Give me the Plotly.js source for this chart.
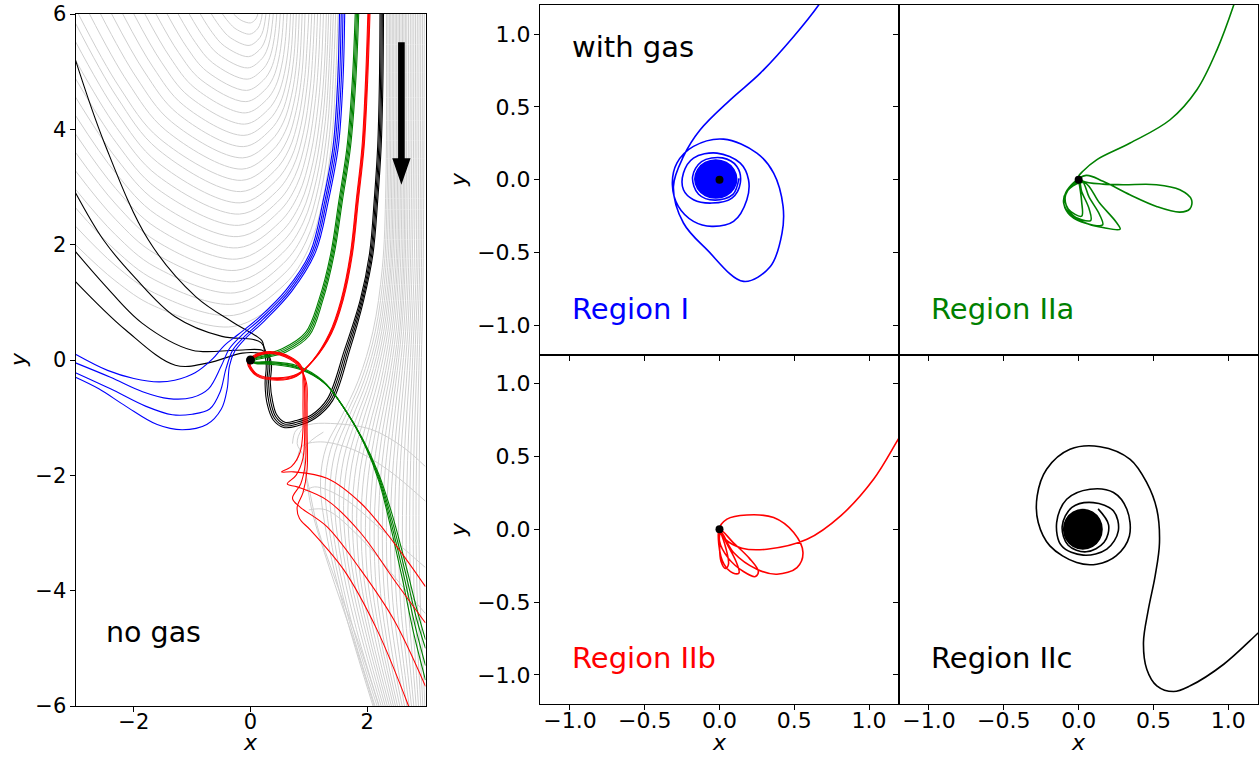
<!DOCTYPE html>
<html>
<head>
<meta charset="utf-8">
<script src="https://cdn.plot.ly/plotly-3.0.1.min.js"></script>
<style>
  html, body { margin: 0; padding: 0; background: #ffffff; }
  #chart { width: 1260px; height: 757px; }
</style>
</head>
<body>
<div id="chart"></div>
<script>
// ---------- tick values and labels ----------
const leftXTicks = [-2, 0, 2];
const leftXTickText = ['\u22122', '0', '2'];
const leftYTicks = [-6, -4, -2, 0, 2, 4, 6];
const leftYTickText = ['\u22126', '\u22124', '\u22122', '0', '2', '4', '6'];
const panelTicks = [-1, -0.5, 0, 0.5, 1];
const panelTickText = ['\u22121.0', '\u22120.5', '0.0', '0.5', '1.0'];

// ---------- left panel: trajectories without gas ----------
// horseshoe orbits (gray), outermost first
const horseshoeOrbits = [
  [[-3,2.0],[-2.325,1.379],[-1.65,0.935],[-0.3,0.58],[0.597,1.13],[1.0,1.73],[1.256,2.58],[1.42,3.68],[1.49,4.8],[1.53,6]],
  [[-3,2.32],[-2.322,1.644],[-1.645,1.161],[-0.289,0.775],[0.588,1.313],[0.981,1.90],[1.232,2.731],[1.393,3.807],[1.46,4.9],[1.50,6]],
  [[-3,2.64],[-2.32,1.909],[-1.639,1.388],[-0.278,0.97],[0.574,1.493],[0.956,2.063],[1.199,2.87],[1.356,3.915],[1.42,4.95],[1.46,6]],
  [[-3,2.96],[-2.317,2.175],[-1.634,1.614],[-0.267,1.165],[0.56,1.672],[0.931,2.225],[1.167,3.009],[1.319,4.023],[1.38,5.0],[1.42,6]],
  [[-3,3.28],[-2.314,2.44],[-1.628,1.84],[-0.256,1.36],[0.546,1.852],[0.906,2.388],[1.135,3.148],[1.282,4.131],[1.345,5.05],[1.38,6]],
  [[-3,3.6],[-2.311,2.705],[-1.623,2.066],[-0.245,1.555],[0.532,2.031],[0.88,2.551],[1.102,3.287],[1.245,4.24],[1.305,5.1],[1.34,6]],
  [[-3,3.92],[-2.309,2.971],[-1.617,2.293],[-0.234,1.75],[0.518,2.211],[0.855,2.714],[1.07,3.426],[1.208,4.348],[1.27,5.15],[1.30,6]],
  [[-3,4.24],[-2.306,3.236],[-1.612,2.519],[-0.223,1.945],[0.499,2.388],[0.823,2.871],[1.029,3.555],[1.162,4.441],[1.22,5.2],[1.25,6]],
  [[-3,4.56],[-2.303,3.501],[-1.606,2.745],[-0.212,2.14],[0.48,2.565],[0.791,3.028],[0.988,3.684],[1.115,4.533],[1.17,5.25],[1.20,6]],
  [[-3,4.88],[-2.3,3.767],[-1.601,2.971],[-0.201,2.335],[0.461,2.741],[0.758,3.184],[0.947,3.811],[1.069,4.623],[1.12,5.3],[1.15,6]],
  [[-3,5.2],[-2.298,4.032],[-1.595,3.198],[-0.19,2.53],[0.442,2.918],[0.726,3.341],[0.907,3.94],[1.023,4.716],[1.07,5.35],[1.10,6]],
  [[-3,5.52],[-2.295,4.297],[-1.59,3.424],[-0.179,2.725],[0.423,3.095],[0.694,3.498],[0.866,4.069],[0.976,4.808],[1.02,5.4],[1.05,6]],
  [[-3,5.84],[-2.292,4.563],[-1.584,3.65],[-0.168,2.92],[0.404,3.271],[0.661,3.654],[0.825,4.196],[0.93,4.898],[0.97,5.45],[1.00,6]],
  [[-2.95,6],[-2.252,4.738],[-1.554,3.836],[-0.157,3.115],[0.385,3.448],[0.629,3.811],[0.784,4.325],[0.884,4.991],[0.935,6]],
  [[-2.76,6],[-2.107,4.823],[-1.453,3.983],[-0.146,3.31],[0.367,3.625],[0.597,3.968],[0.743,4.454],[0.837,5.083],[0.885,6]],
  [[-2.57,6],[-1.961,4.908],[-1.353,4.129],[-0.135,3.505],[0.348,3.801],[0.564,4.124],[0.702,4.581],[0.791,5.173],[0.835,6]],
  [[-2.38,6],[-1.816,4.994],[-1.252,4.275],[-0.124,3.7],[0.329,3.978],[0.532,4.281],[0.661,4.71],[0.745,5.266],[0.785,6]],
  [[-2.19,6],[-1.671,5.079],[-1.152,4.421],[-0.113,3.895],[0.31,4.155],[0.5,4.438],[0.621,4.839],[0.698,5.358],[0.735,6]],
  [[-2.0,6],[-1.526,5.164],[-1.051,4.568],[-0.102,4.09],[0.291,4.331],[0.467,4.594],[0.58,4.966],[0.652,5.448],[0.686,6]],
  [[-1.81,6],[-1.38,5.25],[-0.951,4.714],[-0.091,4.285],[0.267,4.504],[0.428,4.744],[0.53,5.083],[0.596,5.522],[0.628,6]],
  [[-1.62,6],[-1.235,5.335],[-0.85,4.86],[-0.08,4.48],[0.243,4.679],[0.389,4.895],[0.481,5.202],[0.54,5.599],[0.568,6]],
  [[-1.43,6],[-1.09,5.42],[-0.75,5.006],[-0.069,4.675],[0.22,4.852],[0.349,5.045],[0.432,5.319],[0.485,5.673],[0.51,6]],
  [[-1.24,6],[-0.945,5.506],[-0.649,5.153],[-0.058,4.87],[0.196,5.026],[0.31,5.195],[0.382,5.436],[0.429,5.747],[0.45,6]],
  [[-1.05,6],[-0.799,5.591],[-0.549,5.299],[-0.047,5.065],[0.172,5.199],[0.27,5.346],[0.333,5.553],[0.373,5.821],[0.39,6]],
  [[-0.86,6],[-0.654,5.676],[-0.448,5.445],[-0.036,5.26],[0.148,5.373],[0.231,5.496],[0.284,5.67],[0.317,5.896],[0.33,6]],
  [[-0.67,6],[-0.509,5.762],[-0.348,5.591],[-0.025,5.455],[0.124,5.547],[0.192,5.647],[0.234,5.789],[0.265,6]],
  [[-0.48,6],[-0.364,5.847],[-0.247,5.738],[-0.014,5.65],[0.101,5.72],[0.152,5.797],[0.185,5.906],[0.2,6]],
  [[-0.29,6],[-0.218,5.932],[-0.147,5.884],[-0.003,5.845],[0.072,5.891],[0.106,5.942],[0.125,6]]
];

// passing orbits (gray), coming down on the right
const passingOrbits = [
  [[2.33,6],[2.32,3],[2.26,1.6],[2.1,0.5],[1.85,-0.35],[1.55,-1.0],[1.3,-1.5],[1.2,-2.1],[1.3,-3.0],[1.6,-4.3],[2.1,-6]],
  [[2.355,6],[2.345,3],[2.29,1.6],[2.14,0.5],[1.9,-0.35],[1.615,-1.0],[1.375,-1.55],[1.28,-2.2],[1.375,-3.1],[1.66,-4.4],[2.135,-6]],
  [[2.38,6],[2.37,3],[2.32,1.6],[2.18,0.5],[1.95,-0.35],[1.68,-1.0],[1.45,-1.6],[1.36,-2.3],[1.45,-3.2],[1.72,-4.5],[2.17,-6]],
  [[2.405,6],[2.395,3],[2.35,1.6],[2.215,0.5],[2.0,-0.35],[1.74,-1.02],[1.525,-1.65],[1.44,-2.375],[1.525,-3.3],[1.785,-4.55],[2.205,-6]],
  [[2.43,6],[2.42,3],[2.38,1.6],[2.25,0.5],[2.05,-0.35],[1.8,-1.05],[1.6,-1.7],[1.52,-2.45],[1.6,-3.4],[1.85,-4.6],[2.24,-6]],
  [[2.455,6],[2.445,3],[2.405,1.6],[2.285,0.5],[2.095,-0.35],[1.86,-1.07],[1.67,-1.75],[1.595,-2.525],[1.67,-3.5],[1.91,-4.65],[2.275,-6]],
  [[2.48,6],[2.47,3],[2.43,1.6],[2.32,0.5],[2.14,-0.35],[1.92,-1.1],[1.74,-1.8],[1.67,-2.6],[1.74,-3.6],[1.97,-4.7],[2.31,-6]],
  [[2.505,6],[2.495,3],[2.46,1.6],[2.355,0.5],[2.185,-0.37],[1.98,-1.12],[1.81,-1.85],[1.745,-2.675],[1.81,-3.675],[2.025,-4.75],[2.345,-6]],
  [[2.53,6],[2.52,3],[2.49,1.6],[2.39,0.5],[2.23,-0.4],[2.04,-1.15],[1.88,-1.9],[1.82,-2.75],[1.88,-3.75],[2.08,-4.8],[2.38,-6]],
  [[2.555,6],[2.545,3],[2.515,1.6],[2.425,0.5],[2.275,-0.4],[2.095,-1.17],[1.95,-1.95],[1.895,-2.825],[1.95,-3.825],[2.14,-4.85],[2.415,-6]],
  [[2.58,6],[2.57,3],[2.54,1.6],[2.46,0.5],[2.32,-0.4],[2.15,-1.2],[2.02,-2.0],[1.97,-2.9],[2.02,-3.9],[2.2,-4.9],[2.45,-6]],
  [[2.605,6],[2.595,3],[2.57,1.6],[2.495,0.5],[2.365,-0.4],[2.21,-1.2],[2.09,-2.05],[2.045,-2.95],[2.09,-3.95],[2.255,-4.95],[2.485,-6]],
  [[2.63,6],[2.62,3],[2.6,1.6],[2.53,0.5],[2.41,-0.4],[2.27,-1.2],[2.16,-2.1],[2.12,-3.0],[2.16,-4.0],[2.31,-5.0],[2.52,-6]],
  [[2.655,6],[2.645,3],[2.625,1.6],[2.56,0.5],[2.45,-0.4],[2.325,-1.22],[2.225,-2.12],[2.19,-3.05],[2.23,-4.05],[2.37,-5.05],[2.56,-6]],
  [[2.68,6],[2.67,3],[2.65,1.6],[2.59,0.5],[2.49,-0.4],[2.38,-1.25],[2.29,-2.15],[2.26,-3.1],[2.3,-4.1],[2.43,-5.1],[2.6,-6]],
  [[2.71,6],[2.7,3],[2.68,1.6],[2.625,0.5],[2.535,-0.4],[2.435,-1.27],[2.355,-2.17],[2.33,-3.15],[2.37,-4.15],[2.49,-5.1],[2.64,-6]],
  [[2.74,6],[2.73,3],[2.71,1.6],[2.66,0.5],[2.58,-0.4],[2.49,-1.3],[2.42,-2.2],[2.4,-3.2],[2.44,-4.2],[2.55,-5.1],[2.68,-6]],
  [[2.77,6],[2.76,3],[2.74,1.6],[2.695,0.5],[2.625,-0.4],[2.545,-1.3],[2.485,-2.2],[2.47,-3.2],[2.505,-4.2],[2.605,-5.1],[2.72,-6]],
  [[2.8,6],[2.79,3],[2.77,1.6],[2.73,0.5],[2.67,-0.4],[2.6,-1.3],[2.55,-2.2],[2.54,-3.2],[2.57,-4.2],[2.66,-5.1],[2.76,-6]],
  [[2.83,6],[2.82,3],[2.805,1.6],[2.765,0.5],[2.715,-0.4],[2.655,-1.3],[2.615,-2.2],[2.605,-3.2],[2.635,-4.2],[2.715,-5.1],[2.8,-6]],
  [[2.86,6],[2.85,3],[2.84,1.6],[2.8,0.5],[2.76,-0.4],[2.71,-1.3],[2.68,-2.2],[2.67,-3.2],[2.7,-4.2],[2.77,-5.1],[2.84,-6]],
  [[2.89,6],[2.88,3],[2.87,1.6],[2.835,0.5],[2.8,-0.4],[2.76,-1.3],[2.735,-2.2],[2.73,-3.2],[2.755,-4.2],[2.82,-5.1],[2.88,-6]],
  [[2.92,6],[2.91,3],[2.9,1.6],[2.87,0.5],[2.84,-0.4],[2.81,-1.3],[2.79,-2.2],[2.79,-3.2],[2.81,-4.2],[2.87,-5.1],[2.92,-6]],
  [[2.95,6],[2.94,3],[2.93,1.6],[2.905,0.5],[2.88,-0.4],[2.855,-1.3],[2.84,-2.2],[2.84,-3.2],[2.86,-4.2],[2.91,-5.1],[2.955,-6]],
  [[2.98,6],[2.97,3],[2.96,1.6],[2.94,0.5],[2.92,-0.4],[2.9,-1.3],[2.89,-2.2],[2.89,-3.2],[2.91,-4.2],[2.95,-5.1],[2.99,-6]]
];

// scattered orbits (gray) leaving towards the lower right
const scatteredOrbits = [
  [[1.1,-1.0],[0.88,-1.2],[0.8,-1.45],[0.9,-1.65],[0.95,-2.0],[1.05,-2.6],[1.35,-3.6],[1.75,-4.8],[2.12,-6]],
  [[1.25,-1.25],[0.95,-1.5],[0.92,-1.8],[1.0,-2.2],[1.15,-2.9],[1.45,-3.8],[1.85,-4.9],[2.2,-6]],
  [[0.72,-1.45],[0.78,-1.22],[1.0,-1.12],[1.37,-1.1],[2.06,-1.2],[2.6,-1.5],[3.0,-1.85]],
  [[0.8,-1.75],[0.88,-1.5],[1.2,-1.42],[1.75,-1.55],[2.35,-1.9],[3.0,-2.45]],
  [[0.9,-2.3],[1.1,-2.2],[1.6,-2.4],[2.2,-2.9],[3.0,-3.6]],
  [[1.0,-2.6],[1.3,-2.6],[1.9,-3.1],[2.5,-3.8],[3.0,-4.4]]
];

// Region I orbits (blue)
const regionIOrbits = [
  [[1.525,6],[1.495,4.84],[1.415,3.7],[1.245,2.76],[1.025,1.87],[0.615,1.22],[0.15,0.74],[-0.2,0.45],[-0.45,0.25],[-0.65,0.02],[-0.95,-0.22],[-1.3,-0.35],[-1.57,-0.38],[-2.0,-0.32],[-2.45,-0.18],[-3,0.1]],
  [[1.555,6],[1.525,4.84],[1.445,3.7],[1.275,2.76],[1.055,1.87],[0.645,1.21],[0.18,0.72],[-0.16,0.42],[-0.36,0.2],[-0.5,-0.1],[-0.72,-0.5],[-1.0,-0.65],[-1.4,-0.67],[-1.85,-0.55],[-2.4,-0.3],[-3,-0.05]],
  [[1.585,6],[1.555,4.84],[1.475,3.7],[1.305,2.76],[1.085,1.87],[0.675,1.2],[0.21,0.7],[-0.12,0.39],[-0.3,0.18],[-0.42,-0.15],[-0.52,-0.55],[-0.7,-0.85],[-1.0,-0.94],[-1.34,-0.95],[-1.8,-0.8],[-2.4,-0.5],[-3,-0.22]],
  [[1.615,6],[1.585,4.84],[1.505,3.7],[1.335,2.76],[1.115,1.87],[0.705,1.19],[0.24,0.68],[-0.09,0.37],[-0.27,0.15],[-0.36,-0.1],[-0.4,-0.5],[-0.5,-0.85],[-0.75,-1.12],[-1.17,-1.21],[-1.6,-1.12],[-2.14,-0.8],[-2.6,-0.5],[-3,-0.3]]
];

// Region IIa orbits (green)
const regionIIaOrbits = [
  [[1.795,6],[1.745,4.84],[1.655,3.7],[1.515,2.76],[1.375,1.84],[1.175,1.05],[0.945,0.48],[0.55,0.2],[0.22,0.09],[0.07,0.05],[0.0,0.01],[0.05,-0.03],[0.34,-0.03],[0.8,-0.1],[1.24,-0.36],[1.58,-0.8],[1.92,-1.36],[2.2,-1.98],[2.42,-2.65],[2.66,-3.55],[2.86,-4.35],[3.0,-4.85]],
  [[1.815,6],[1.765,4.84],[1.675,3.7],[1.535,2.76],[1.395,1.84],[1.195,1.04],[0.965,0.46],[0.57,0.18],[0.23,0.07],[0.07,0.035],[0.01,0.0],[0.06,-0.04],[0.34,-0.045],[0.8,-0.12],[1.25,-0.38],[1.6,-0.83],[1.93,-1.4],[2.2,-2.02],[2.41,-2.72],[2.64,-3.62],[2.85,-4.5],[3.0,-5.0]],
  [[1.835,6],[1.785,4.84],[1.695,3.7],[1.555,2.76],[1.415,1.84],[1.215,1.03],[0.985,0.44],[0.59,0.16],[0.24,0.055],[0.08,0.02],[0.02,-0.01],[0.07,-0.05],[0.35,-0.06],[0.82,-0.14],[1.27,-0.4],[1.62,-0.86],[1.95,-1.44],[2.2,-2.06],[2.4,-2.78],[2.62,-3.7],[2.82,-4.6],[3.0,-5.3]],
  [[1.855,6],[1.805,4.84],[1.715,3.7],[1.575,2.76],[1.435,1.84],[1.235,1.02],[1.005,0.42],[0.61,0.14],[0.25,0.04],[0.09,0.005],[0.03,-0.02],[0.08,-0.06],[0.36,-0.075],[0.84,-0.16],[1.29,-0.42],[1.64,-0.89],[1.96,-1.48],[2.2,-2.1],[2.39,-2.84],[2.6,-3.78],[2.8,-4.75],[3.0,-5.55]]
];

// Region IIb orbits (red)
const regionIIbOrbits = [
  [[2.012,6],[1.972,4.84],[1.912,3.7],[1.812,2.76],[1.712,1.84],[1.552,1.04],[1.352,0.46],[1.062,-0.015],[0.79,-0.28],[0.46,-0.35],[0.11,-0.28],[-0.05,-0.05],[0.05,0.075],[0.34,0.145],[0.7,0.045],[0.88,-0.12],[0.9,-0.4],[0.9,-0.8],[0.9,-1.2],[0.85,-1.6],[0.7,-1.85],[0.53,-1.94],[0.74,-1.94],[1.31,-2.05],[1.89,-2.48],[2.46,-3.17],[3.0,-3.93]],
  [[2.024,6],[1.984,4.84],[1.924,3.7],[1.824,2.76],[1.724,1.84],[1.564,1.04],[1.364,0.46],[1.074,-0.005],[0.797,-0.267],[0.46,-0.337],[0.11,-0.267],[-0.037,-0.05],[0.056,0.065],[0.34,0.135],[0.692,0.035],[0.866,-0.12],[0.92,-0.4],[0.93,-0.8],[0.93,-1.2],[0.9,-1.7],[0.78,-2.0],[0.63,-2.15],[0.8,-2.2],[1.31,-2.43],[1.89,-3.0],[2.46,-3.81],[3.0,-4.56]],
  [[2.036,6],[1.996,4.84],[1.936,3.7],[1.836,2.76],[1.736,1.84],[1.576,1.04],[1.376,0.46],[1.086,0.005],[0.803,-0.253],[0.46,-0.323],[0.11,-0.253],[-0.023,-0.05],[0.064,0.055],[0.34,0.125],[0.684,0.025],[0.852,-0.12],[0.94,-0.4],[0.95,-0.8],[0.95,-1.2],[0.94,-1.8],[0.86,-2.15],[0.72,-2.4],[0.85,-2.55],[1.31,-2.89],[1.89,-3.64],[2.46,-4.51],[3.0,-5.66]],
  [[2.048,6],[2.008,4.84],[1.948,3.7],[1.848,2.76],[1.748,1.84],[1.588,1.04],[1.388,0.46],[1.098,0.015],[0.81,-0.24],[0.46,-0.31],[0.11,-0.24],[-0.01,-0.05],[0.07,0.045],[0.34,0.115],[0.676,0.015],[0.838,-0.12],[0.96,-0.4],[0.97,-0.8],[0.97,-1.2],[0.97,-1.9],[0.9,-2.3],[0.8,-2.55],[0.84,-2.75],[1.03,-2.95],[1.6,-3.64],[2.17,-4.68],[2.71,-6]]
];

// Region IIc orbits (black)
const regionIIcOrbits = [
  [[2.28,6],[2.27,4.84],[2.24,3.7],[2.18,2.76],[2.10,1.84],[1.94,1.04],[1.70,0.17],[1.41,-0.7],[1.11,-1.01],[0.81,-1.14],[0.57,-1.17],[0.39,-1.04],[0.29,-0.78],[0.25,-0.42],[0.27,-0.1],[0.24,0.15],[0.2,0.33],[0.09,0.42],[-0.31,0.66],[-0.94,1.1],[-1.75,2.08],[-2.5,3.75],[-3,5.2]],
  [[2.26,6],[2.25,4.84],[2.22,3.7],[2.16,2.76],[2.08,1.84],[1.92,1.04],[1.67,0.17],[1.38,-0.69],[1.09,-0.99],[0.8,-1.11],[0.57,-1.14],[0.41,-1.01],[0.32,-0.76],[0.28,-0.41],[0.3,-0.1],[0.27,0.12],[0.18,0.3],[0.03,0.36],[-0.49,0.41],[-1.29,0.75],[-2.0,1.45],[-2.52,2.08],[-3,2.9]],
  [[2.24,6],[2.23,4.84],[2.2,3.7],[2.14,2.76],[2.06,1.84],[1.9,1.04],[1.64,0.17],[1.35,-0.68],[1.07,-0.97],[0.79,-1.08],[0.58,-1.11],[0.43,-0.98],[0.35,-0.74],[0.31,-0.4],[0.33,-0.1],[0.3,0.08],[0.2,0.17],[-0.26,0.17],[-1.0,0.17],[-1.86,0.64],[-2.5,1.3],[-3,1.88]],
  [[2.22,6],[2.21,4.84],[2.18,3.7],[2.12,2.76],[2.04,1.84],[1.88,1.04],[1.61,0.17],[1.32,-0.67],[1.05,-0.95],[0.78,-1.05],[0.59,-1.08],[0.45,-0.95],[0.38,-0.72],[0.34,-0.39],[0.36,-0.1],[0.32,0.06],[0.2,0.11],[-0.14,0.12],[-0.72,-0.05],[-1.29,-0.09],[-2.14,0.52],[-3,1.36]]
];

// ---------- right panels: single orbits with gas ----------
const gasOrbitI = [[0.70,1.26],[0.663,1.2],[0.496,0.984],[0.273,0.732],[0.072,0.549],[-0.129,0.343],[-0.241,0.16],[-0.308,-0.046],[-0.241,-0.297],[-0.084,-0.48],[0.161,-0.698],[0.34,-0.595],[0.418,-0.366],[0.425,-0.183],[0.362,0.046],[0.25,0.183],[0.027,0.279],[-0.174,0.229],[-0.285,0.114],[-0.315,-0.034],[-0.275,-0.183],[-0.174,-0.286],[-0.051,-0.32],[0.094,-0.286],[0.183,-0.137],[0.194,0.0],[0.139,0.114],[-0.017,0.183],[-0.174,0.149],[-0.241,0.046],[-0.241,-0.069],[-0.174,-0.137],[-0.051,-0.16],[0.083,-0.126],[0.139,-0.023],[0.116,0.091],[0.02,0.15],[-0.12,0.125],[-0.18,0.02],[-0.14,-0.1],[-0.03,-0.14],[0.09,-0.1],[0.13,0.01]];
const gasCoreI = [[0.115,0.005],[0.096,0.07],[0.045,0.118],[-0.025,0.135],[-0.095,0.118],[-0.146,0.07],[-0.165,0.005],[-0.146,-0.06],[-0.095,-0.108],[-0.025,-0.125],[0.045,-0.108],[0.096,-0.06],[0.115,0.005]];

const gasOrbitIIa = [[1.06,1.28],[1.036,1.2],[0.924,0.892],[0.79,0.618],[0.611,0.412],[0.344,0.252],[0.12,0.137],[0.03,0.06],[0.0,0.02],
  [0.03,-0.01],[0.163,-0.03],[0.297,-0.034],[0.52,-0.034],[0.676,-0.069],[0.754,-0.137],[0.743,-0.2],[0.676,-0.222],[0.52,-0.183],[0.342,-0.103],[0.163,-0.011],[0.05,0.03],
  [-0.04,-0.03],[-0.09,-0.12],[-0.06,-0.22],[0.03,-0.29],[0.17,-0.33],[0.277,-0.339],[0.25,-0.29],[0.14,-0.16],[0.04,-0.02],
  [-0.06,-0.06],[-0.1,-0.14],[-0.07,-0.23],[0.02,-0.29],[0.16,-0.31],[0.14,-0.24],[0.07,-0.12],[0.02,-0.01],
  [-0.08,-0.08],[-0.1,-0.16],[-0.05,-0.24],[0.08,-0.28],[0.07,-0.2],[0.02,-0.08],[0,0],
  [-0.09,-0.1],[-0.07,-0.2],[0.02,-0.25],[0.02,-0.15],[0.0,0.0]];

const gasOrbitIIb = [[1.28,0.75],[1.206,0.636],[1.03,0.343],[0.81,0.092],[0.585,-0.069],[0.317,-0.137],[0.15,-0.13],[0.04,-0.07],[0.0,0.0],
  [0.05,0.069],[0.183,0.098],[0.362,0.08],[0.496,-0.023],[0.558,-0.16],[0.518,-0.263],[0.384,-0.309],[0.25,-0.275],[0.094,-0.16],[0.01,-0.02],
  [0.0,-0.08],[0.06,-0.2],[0.16,-0.29],[0.24,-0.325],[0.26,-0.29],[0.2,-0.2],[0.09,-0.09],[0.0,0.0],
  [-0.005,-0.1],[0.03,-0.24],[0.09,-0.3],[0.13,-0.3],[0.11,-0.22],[0.05,-0.1],[0.0,0.0],
  [0.0,-0.1],[0.01,-0.22],[0.04,-0.27],[0.06,-0.24],[0.04,-0.12],[0.0,0.0]];

const gasOrbitIIc = [[1.3,-0.62],[1.203,-0.709],[0.969,-0.927],[0.745,-1.075],[0.634,-1.114],[0.522,-1.075],[0.455,-0.961],[0.433,-0.778],[0.466,-0.549],[0.511,-0.32],[0.54,-0.092],[0.522,0.137],[0.455,0.32],[0.344,0.48],[0.143,0.567],[-0.058,0.549],[-0.214,0.412],[-0.277,0.229],[-0.27,0.046],[-0.192,-0.114],[-0.013,-0.229],[0.121,-0.24],[0.25,-0.183],[0.339,-0.046],[0.322,0.137],[0.233,0.252],[0.076,0.275],[-0.08,0.206],[-0.147,0.046],[-0.114,-0.114],[0.031,-0.178],[0.188,-0.137],[0.265,-0.011],[0.233,0.126],[0.098,0.183],[-0.045,0.15],[-0.11,0.02],[-0.07,-0.11],[0.05,-0.155],[0.17,-0.09],[0.2,0.03],[0.13,0.14]];
const gasCoreIIc = [[0.156,0],[0.139,0.068],[0.092,0.117],[0.028,0.135],[-0.036,0.117],[-0.083,0.068],[-0.1,0],[-0.083,-0.068],[-0.036,-0.117],[0.028,-0.135],[0.092,-0.117],[0.139,-0.068],[0.156,0]];

// planet position
const planet = [0, 0];

// direction of the incoming flow (left panel)
const flowArrow = { x: 2.587, yTail: 5.51, yHeadBase: 3.5, yTip: 3.04 };

// ---------- colours ----------
const GRAY = '#cfcfcf';
const BLUE = '#0000ff';
const GREEN = '#008000';
const RED = '#ff0000';
const BLACK = '#000000';

const FONT = 'DejaVu Sans';

function orbitTrace(pts, xa, ya, color, width, extra) {
  return Object.assign({
    type: 'scatter', mode: 'lines',
    x: pts.map(p => p[0]), y: pts.map(p => p[1]),
    xaxis: xa, yaxis: ya,
    line: { color: color, width: width, shape: 'spline', smoothing: 1 },
    hoverinfo: 'skip', showlegend: false
  }, extra || {});
}

function planetTrace(xa, ya, size) {
  return {
    type: 'scatter', mode: 'markers', x: [planet[0]], y: [planet[1]],
    xaxis: xa, yaxis: ya, marker: { color: BLACK, size: size, line: { width: 0 } },
    hoverinfo: 'skip', showlegend: false, cliponaxis: false
  };
}

const traces = [];
horseshoeOrbits.forEach(o => traces.push(orbitTrace(o, 'x', 'y', GRAY, 1)));
passingOrbits.forEach(o => traces.push(orbitTrace(o, 'x', 'y', GRAY, 1)));
scatteredOrbits.forEach(o => traces.push(orbitTrace(o, 'x', 'y', GRAY, 1)));
regionIIcOrbits.forEach(o => traces.push(orbitTrace(o, 'x', 'y', BLACK, 1.1)));
regionIOrbits.forEach(o => traces.push(orbitTrace(o, 'x', 'y', BLUE, 1.1)));
regionIIaOrbits.forEach(o => traces.push(orbitTrace(o, 'x', 'y', GREEN, 1.1)));
regionIIbOrbits.forEach(o => traces.push(orbitTrace(o, 'x', 'y', RED, 1.1)));
traces.push(planetTrace('x', 'y', 9));

traces.push(orbitTrace(gasOrbitI, 'x2', 'y2', BLUE, 1.6));
traces.push(orbitTrace(gasCoreI, 'x2', 'y2', BLUE, 1.6, { fill: 'toself', fillcolor: BLUE }));
traces.push(planetTrace('x2', 'y2', 8));

traces.push(orbitTrace(gasOrbitIIa, 'x3', 'y3', GREEN, 1.6));
traces.push(planetTrace('x3', 'y3', 8));

traces.push(orbitTrace(gasOrbitIIb, 'x4', 'y4', RED, 1.6));
traces.push(planetTrace('x4', 'y4', 8));

traces.push(orbitTrace(gasOrbitIIc, 'x5', 'y5', BLACK, 1.6));
traces.push(orbitTrace(gasCoreIIc, 'x5', 'y5', BLACK, 1.6, { fill: 'toself', fillcolor: BLACK }));

// ---------- axes ----------
const W = 1260, H = 757;
const axisBase = {
  showgrid: false, zeroline: false, showline: true, linecolor: '#000', linewidth: 1,
  mirror: true, ticks: 'outside', ticklen: 5, tickwidth: 1, tickcolor: '#000',
  fixedrange: true
};
function ax(extra) { return Object.assign({}, axisBase, extra); }

const colL = [75.5 / W, 425.5 / W];
const col1 = [540 / W, 899 / W];
const col2 = [899 / W, 1258.3 / W];
const rowL = [1 - 706 / H, 1 - 14 / H];
const rowTop = [1 - 354.5 / H, 1 - 5 / H];
const rowBot = [1 - 704 / H, 1 - 354.5 / H];

const leftTickFont = { family: FONT, size: 21, color: '#000' };
const panelTickFont = { family: FONT, size: 22, color: '#000' };

const panelX = (domain, labels) => ax({ domain: domain, range: [-1.2, 1.2], tickmode: 'array', tickvals: panelTicks, ticktext: panelTickText, showticklabels: labels, tickfont: panelTickFont, ticklabelstandoff: -8 });
const panelY = (domain, anchor, labels) => ax({ domain: domain, range: [-1.2, 1.2], tickmode: 'array', tickvals: panelTicks, ticktext: panelTickText, showticklabels: labels, tickfont: panelTickFont, anchor: anchor, ticklabelstandoff: -1 });

const xTitleFont = { family: FONT, size: 22, color: '#000' };

const layout = {
  width: W, height: H,
  margin: { l: 0, r: 0, t: 0, b: 0 },
  paper_bgcolor: '#fff', plot_bgcolor: '#fff',
  showlegend: false,
  font: { family: FONT, color: '#000' },
  xaxis: ax({ domain: colL, range: [-3, 3], tickmode: 'array', tickvals: leftXTicks, ticktext: leftXTickText, tickfont: leftTickFont, anchor: 'y', ticklabelstandoff: -8 }),
  yaxis: ax({ domain: rowL, range: [-6, 6], tickmode: 'array', tickvals: leftYTicks, ticktext: leftYTickText, tickfont: leftTickFont, anchor: 'x', ticklabelstandoff: -1 }),
  xaxis2: Object.assign(panelX(col1, false), { anchor: 'y2' }),
  yaxis2: panelY(rowTop, 'x2', true),
  xaxis3: Object.assign(panelX(col2, false), { anchor: 'y3' }),
  yaxis3: panelY(rowTop, 'x3', false),
  xaxis4: Object.assign(panelX(col1, true), { anchor: 'y4' }),
  yaxis4: panelY(rowBot, 'x4', true),
  xaxis5: Object.assign(panelX(col2, true), { anchor: 'y5' }),
  yaxis5: panelY(rowBot, 'x5', false),
  shapes: [{
    type: 'path', xref: 'x', yref: 'y', layer: 'above',
    path: 'M ' + (flowArrow.x - 0.057) + ' ' + flowArrow.yTail +
          ' L ' + (flowArrow.x + 0.057) + ' ' + flowArrow.yTail +
          ' L ' + (flowArrow.x + 0.057) + ' ' + flowArrow.yHeadBase +
          ' L ' + (flowArrow.x + 0.157) + ' ' + flowArrow.yHeadBase +
          ' L ' + flowArrow.x + ' ' + flowArrow.yTip +
          ' L ' + (flowArrow.x - 0.157) + ' ' + flowArrow.yHeadBase +
          ' L ' + (flowArrow.x - 0.057) + ' ' + flowArrow.yHeadBase + ' Z',
    fillcolor: BLACK, line: { width: 0 }
  }],
  annotations: [
    // axis titles
    { xref: 'paper', yref: 'paper', x: 18 / W, y: 1 - 360 / H, text: '<i>y</i>', showarrow: false, textangle: -90, font: xTitleFont, xanchor: 'center', yanchor: 'middle' },
    { xref: 'paper', yref: 'paper', x: 458 / W, y: 1 - 180 / H, text: '<i>y</i>', showarrow: false, textangle: -90, font: xTitleFont, xanchor: 'center', yanchor: 'middle' },
    { xref: 'paper', yref: 'paper', x: 458 / W, y: 1 - 530 / H, text: '<i>y</i>', showarrow: false, textangle: -90, font: xTitleFont, xanchor: 'center', yanchor: 'middle' },
    { xref: 'paper', yref: 'paper', x: 250 / W, y: 0, text: '<i>x</i>', showarrow: false, font: xTitleFont, xanchor: 'center', yanchor: 'bottom' },
    { xref: 'paper', yref: 'paper', x: 719.3 / W, y: 0, text: '<i>x</i>', showarrow: false, font: xTitleFont, xanchor: 'center', yanchor: 'bottom' },
    { xref: 'paper', yref: 'paper', x: 1078.7 / W, y: 0, text: '<i>x</i>', showarrow: false, font: xTitleFont, xanchor: 'center', yanchor: 'bottom' },
    // panel labels
    { xref: 'x', yref: 'y', x: -2.51, y: -4.73, text: 'no gas', showarrow: false, font: { family: FONT, size: 28.5, color: BLACK }, xanchor: 'left', yanchor: 'middle' },
    { xref: 'x2', yref: 'y2', x: -1.0, y: 0.911, text: 'with gas', showarrow: false, font: { family: FONT, size: 29, color: BLACK }, xanchor: 'left', yanchor: 'middle' },
    { xref: 'x2', yref: 'y2', x: -1.0, y: -0.887, text: 'Region I', showarrow: false, font: { family: FONT, size: 29, color: BLUE }, xanchor: 'left', yanchor: 'middle' },
    { xref: 'x3', yref: 'y3', x: -1.0, y: -0.887, text: 'Region IIa', showarrow: false, font: { family: FONT, size: 29, color: GREEN }, xanchor: 'left', yanchor: 'middle' },
    { xref: 'x4', yref: 'y4', x: -1.0, y: -0.883, text: 'Region IIb', showarrow: false, font: { family: FONT, size: 29, color: RED }, xanchor: 'left', yanchor: 'middle' },
    { xref: 'x5', yref: 'y5', x: -1.0, y: -0.883, text: 'Region IIc', showarrow: false, font: { family: FONT, size: 29, color: BLACK }, xanchor: 'left', yanchor: 'middle' }
  ]
};

Plotly.newPlot('chart', traces, layout, { staticPlot: true, displayModeBar: false });
</script>
</body>
</html>
